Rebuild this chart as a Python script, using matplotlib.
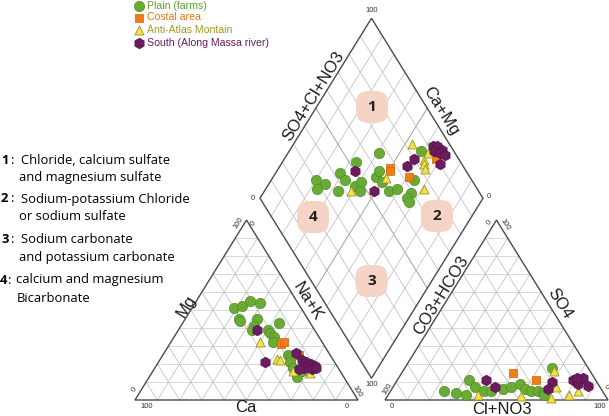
import numpy as np
import matplotlib
matplotlib.use("Agg")
import matplotlib.pyplot as plt
from matplotlib.patches import Polygon, FancyBboxPatch

# ---------------- data (percent) ----------------
# Cation triangle: Mg %, Na+K %   (Ca = 100 - Mg - Na+K)
plain_cat_mg = [51, 52, 55, 54, 45, 44, 45, 43, 41, 39, 39, 37, 35, 32, 25, 24, 21, 13, 16, 18]
plain_cat_na = [19, 22, 24, 29, 24, 25, 32, 43, 33, 33, 40, 42, 45, 46, 56, 58, 59, 66, 67, 62]
coastal_cat_mg = [31, 32, 25]
coastal_cat_na = [50, 51, 61]
anti_cat_mg = [32, 23, 22, 16, 15]
anti_cat_na = [40, 52, 54, 63, 71]
south_cat_mg = [39, 21, 26, 22, 21, 20, 19, 18, 17, 17, 18]
south_cat_na = [35, 48, 59, 64, 66, 69, 71, 67, 65, 71, 72]

# Anion triangle: SO4 %, Cl+NO3 %
plain_an_so4 = [5, 4, 3, 11, 7, 5, 5, 6, 7, 9, 6, 5, 5, 4, 3, 18]
plain_an_cl = [24, 30, 35, 32, 37, 42, 45, 50, 53, 56, 60, 63, 66, 69, 70, 66]
coastal_an_so4 = [15, 11]
coastal_an_cl = [50, 62]
anti_an_so4 = [3, 2, 16, 7, 1, 3, 5]
anti_an_cl = [40, 60, 68, 73, 74, 81, 84]
south_an_so4 = [11, 7, 10, 6, 11, 9, 12, 8, 12]
south_an_cl = [40, 46, 70, 70, 79, 82, 83, 87, 80]

# Diamond: Na+K %, SO4+Cl+NO3 %
plain_dia_na = [41, 33, 29, 33, 20, 25, 23, 33, 39, 41, 43, 46, 46, 50, 56, 59, 64, 66, 66, 68, 59]
plain_dia_sc = [66, 53, 43, 43, 30, 33, 28, 37, 46, 50, 47, 58, 61, 59, 60, 64, 74, 69, 66, 66, 85]
coastal_dia_na = [50, 51, 61, 68]
coastal_dia_sc = [67, 66, 73, 90]
anti_dia_na = [53, 51, 39, 63, 64, 66, 63, 71]
anti_dia_sc = [83, 62, 43, 84, 83, 82, 88, 76]
south_dia_na = [35, 49, 57, 58, 63, 65, 68, 65, 68, 71, 71]
south_dia_sc = [50, 53, 75, 80, 92, 94, 95, 91, 93, 95, 90]

group_names = ["Plain (farms)", "Costal area", "Anti-Atlas Montain", "South (Along Massa river)"]
region_labels = ["1", "2", "3", "4"]
region_texts = [
    ("1", ["Chloride, calcium sulfate", "and magnesium sulfate"]),
    ("2", ["Sodium-potassium Chloride", "or sodium sulfate"]),
    ("3", ["Sodium carbonate", "and potassium carbonate"]),
    ("4", ["calcium and magnesium", "Bicarbonate"]),
]

# ---------------- geometry ----------------
W, H = 609, 416
S = np.sqrt(3) / 2
G = 27 / 223.0          # gap between triangles (in triangle side units)
SX, SY = 223.0, 207.8   # px per unit
OX, OY = 135.0, 400.0   # pixel of origin


def cat_xy(mg, na):
    mg = np.asarray(mg) / 100.0
    na = np.asarray(na) / 100.0
    return na + mg / 2, mg * S


def an_xy(so4, cl):
    so4 = np.asarray(so4) / 100.0
    cl = np.asarray(cl) / 100.0
    return 1 + G + cl + so4 / 2, so4 * S


def dia_xy(na, sc):
    na = np.asarray(na) / 100.0
    sc = np.asarray(sc) / 100.0
    return 1 + G / 2 - 0.5 * (1 - na) + 0.5 * sc, G * S + S * (1 - na + sc)


def px(x, y):
    """pixel -> data"""
    return (x - OX) / SX, (OY - y) / SY


fig = plt.figure(figsize=(W / 100, H / 100), dpi=100)
ax = fig.add_axes([0, 0, 1, 1])
ax.set_xlim(-OX / SX, (W - OX) / SX)
ax.set_ylim((OY - H) / SY, OY / SY)
ax.axis("off")

grid_c = "#c4c4c4"
dot_c = "#a8a8a8"
edge_c = "#4a4a4a"

# ---- triangles ----
for x0 in (0.0, 1 + G):
    for k in range(1, 10):
        f = k / 10
        ax.plot([x0 + f / 2, x0 + 1 - f / 2], [f * S, f * S], color=dot_c, lw=0.6,
                ls=(0, (1.2, 1.2)), zorder=1)
        ax.plot([x0 + f, x0 + f + (1 - f) / 2], [0, (1 - f) * S], color=grid_c, lw=0.6, zorder=1)
        ax.plot([x0 + 1 - f, x0 + (1 - f) / 2], [0, (1 - f) * S], color=grid_c, lw=0.6, zorder=1)
    ax.add_patch(Polygon([[x0, 0], [x0 + 1, 0], [x0 + 0.5, S]], closed=True, fill=False,
                         ec=edge_c, lw=1.0, zorder=2))

# ---- diamond ----
for k in range(1, 10):
    f = k / 10
    c = "#a0a0a0" if k == 5 else grid_c
    lw = 0.7 if k == 5 else 0.6
    xa, ya = dia_xy([f * 100, f * 100], [0, 100])
    ax.plot(xa, ya, color=c, lw=lw, zorder=1)
    xb, yb = dia_xy([0, 100], [f * 100, f * 100])
    ax.plot(xb, yb, color=c, lw=lw, zorder=1)
dx, dy = dia_xy([100, 0, 0, 100], [0, 0, 100, 100])
ax.add_patch(Polygon(np.column_stack([dx, dy]), closed=True, fill=False, ec=edge_c, lw=1.0, zorder=2))

# ---- region blobs ----
blob_px = [(372, 107), (437, 216), (371.5, 281), (313, 217)]
bw, bh = 32 / SX, 32 / SY
for lab, (bx, by) in zip(region_labels, blob_px):
    cx, cy = px(bx, by)
    ax.add_patch(FancyBboxPatch((cx - bw / 2 + 0.055, cy - bh / 2 + 0.059), bw - 0.11, bh - 0.118,
                                boxstyle="round,pad=0.055", mutation_aspect=1.07,
                                fc="#f6d4c5", ec="none", zorder=2.5))
    ax.text(cx, cy, lab, ha="center", va="center", fontsize=11, fontweight="bold",
            color="#1e1e1e", family="Open Sans", zorder=3)

# ---- points ----
styles = [
    dict(marker="o", s=55, fc="#6aab35", ec="#4f8d25", lw=0.5),
    dict(marker="s", s=32, fc="#f07d16", ec="#d0660a", lw=0.5),
    dict(marker="^", s=42, fc="#f3e24a", ec="#9e9222", lw=0.6),
    dict(marker="h", s=58, fc="#6b1b5e", ec="#55124a", lw=0.5),
]
cat_data = [(plain_cat_mg, plain_cat_na), (coastal_cat_mg, coastal_cat_na),
            (anti_cat_mg, anti_cat_na), (south_cat_mg, south_cat_na)]
an_data = [(plain_an_so4, plain_an_cl), (coastal_an_so4, coastal_an_cl),
           (anti_an_so4, anti_an_cl), (south_an_so4, south_an_cl)]
dia_data = [(plain_dia_na, plain_dia_sc), (coastal_dia_na, coastal_dia_sc),
            (anti_dia_na, anti_dia_sc), (south_dia_na, south_dia_sc)]
for i, st in enumerate(styles):
    z = 4 + i
    for fn, dat in ((cat_xy, cat_data), (an_xy, an_data), (dia_xy, dia_data)):
        x, y = fn(*dat[i])
        ax.scatter(x, y, marker=st["marker"], s=st["s"], facecolor=st["fc"], edgecolor=st["ec"],
                   linewidth=st["lw"], zorder=z)


# ---- text helpers ----
def ftext(x, y, s, **kw):
    fig.text(x / W, 1 - y / H, s, **kw)


LAB = dict(family="Liberation Sans", fontsize=12, color="#1a1a1a", ha="center", va="center",
           rotation_mode="anchor")
ftext(314, 96, "SO4+Cl+NO3", rotation=58, **LAB)
ftext(441, 111, "Ca+Mg", rotation=-58, **LAB)
ftext(186, 306, "Mg", rotation=58, **LAB)
ftext(308, 302, "Na+K", rotation=-58, **LAB)
ftext(246, 408, "Ca", **LAB)
ftext(441, 295, "CO3+HCO3", rotation=58, **LAB)
ftext(560, 304, "SO4", rotation=-58, **LAB)
ftext(502, 409, "Cl+NO3", **LAB)

TK = dict(family="Liberation Sans", fontsize=5.5, color="#333333", ha="center", va="center",
          rotation_mode="anchor")
ftext(372, 10, "100", **TK)
ftext(253, 199, "0", **TK)
ftext(489, 197, "0", **TK)
ftext(372, 385, "100", **TK)
ftext(239, 223, "100", rotation=58, **TK)
ftext(254, 223, "0", rotation=58, **TK)
ftext(135, 389, "0", rotation=58, **TK)
ftext(147, 407, "100", **TK)
ftext(347, 407, "0", **TK)
ftext(357, 392, "100", rotation=-58, **TK)
ftext(490, 222, "0", rotation=58, **TK)
ftext(505, 225, "100", rotation=-58, **TK)
ftext(388, 389, "100", rotation=58, **TK)
ftext(392, 406, "0", **TK)
ftext(600, 406, "100", **TK)
ftext(606, 387, "0", rotation=-58, **TK)

# ---- legend ----
leg_y = [6, 17.5, 30, 42.5]
leg_col = ["#5f9f2c", "#e07a12", "#a39a1e", "#6b1a60"]
for name, yy, col, st in zip(group_names, leg_y, leg_col, styles):
    lx, ly = px(139, yy)
    ax.scatter([lx], [ly], marker=st["marker"], s=st["s"], facecolor=st["fc"], edgecolor=st["ec"],
               linewidth=st["lw"], zorder=8, clip_on=False)
    ftext(147, yy, name, family="Liberation Sans", fontsize=7.6, color=col, ha="left", va="center")

# ---- region descriptions ----
FS = 9.4
desc_y = [(160.7, 177.7), (199, 217), (240, 258), (280, 298)]
for (num, lines), (y1, y2) in zip(region_texts, desc_y):
    if num == "4":
        ftext(0, y1, num, family="Open Sans", fontsize=FS, fontweight="bold", ha="left", va="center")
        ftext(8, y1, ":", family="Open Sans", fontsize=FS, ha="left", va="center")
        ftext(16, y1, lines[0], family="Open Sans", fontsize=FS, ha="left", va="center")
        ftext(17, y2, lines[1], family="Open Sans", fontsize=FS, ha="left", va="center")
    else:
        ftext(1, y1, num, family="Open Sans", fontsize=FS, fontweight="bold", ha="left", va="center")
        ftext(11, y1, ":", family="Open Sans", fontsize=FS, ha="left", va="center")
        ftext(21, y1, lines[0], family="Open Sans", fontsize=FS, ha="left", va="center")
        ftext(19, y2, lines[1], family="Open Sans", fontsize=FS, ha="left", va="center")

fig.savefig("out.png", dpi=100)
